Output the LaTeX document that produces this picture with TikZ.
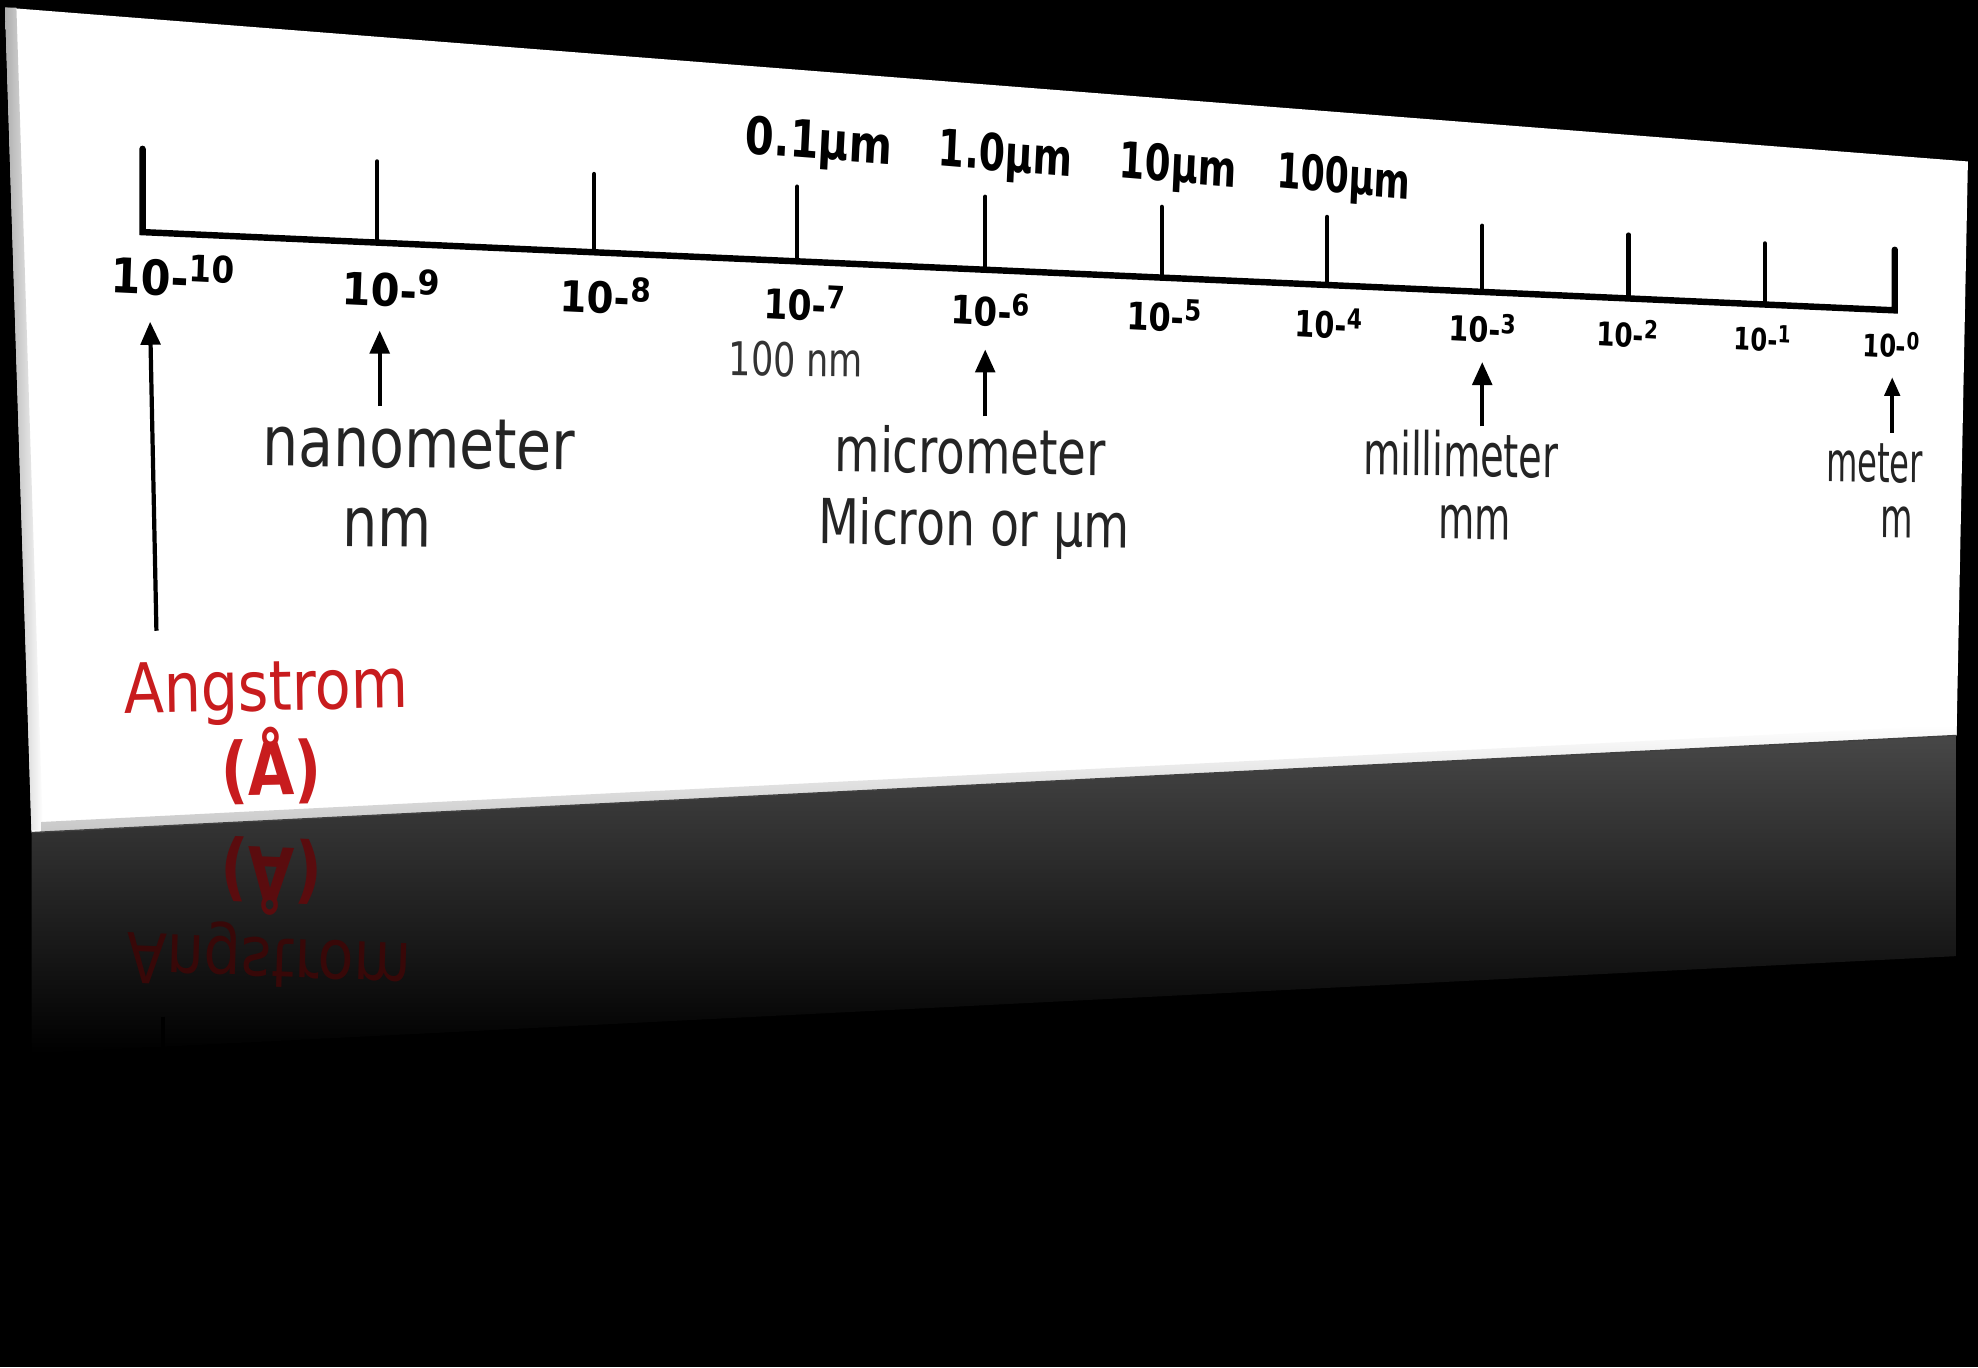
\documentclass[tikz,border=0pt]{standalone}
\usepackage{fontspec}
\setmainfont{DejaVu Sans}
\usepackage{xcolor}
\usepackage{tikz}
\usetikzlibrary{arrows.meta}
\definecolor{angred}{RGB}{200,28,30}
\newcommand{\tenpow}[2]{\fontsize{#1}{#1}\selectfont 10-\raisebox{0.3em}{\scalebox{0.76}{#2}}}
\newcommand{\fsz}[1]{\fontsize{#1}{#1}\selectfont}

\begin{document}
\begin{tikzpicture}[x=0.1mm, y=-0.1mm,
    tickln/.style={line width=1pt, line cap=round},
    axisln/.style={line width=1.45pt, line cap=round},
    uparr/.style={-{Triangle[length=5.2pt, width=4.4pt]}, line width=0.95pt},
    toplbl/.style={inner sep=0pt, font=\bfseries, transform shape, xscale=#1, rotate=-3.5},
    powlbl/.style={inner sep=0pt, font=\bfseries, transform shape, xscale=#1, rotate=-2.4},
    unitlbl/.style={inner sep=0pt, text=black!86, transform shape, xscale=#1, rotate=-0.6},
    anglbl/.style={inner sep=0pt, text=angred, transform shape, xscale=#1, rotate=1},
    mirlbl/.style={inner sep=0pt, transform shape, xscale=#1, yscale=-1, rotate=2}
]
% backdrop, reflection, card
\fill[black] (0,0) rectangle (1568,1084);
\begin{scope}[shift={(25,660)}, yslant=0.0505]
  \shade[top color=black!72, bottom color=black] (0,0) rectangle (1526,175);
\end{scope}
\fill[white] (4,6) -- (1560,128) -- (1551,583) -- (25,660) -- cycle;
\begin{scope}[shift={(4,6)}, xslant=-0.0321]
  \shade[left color=black!32, right color=white] (0,0) rectangle (9,652);
\end{scope}
\begin{scope}[shift={(25,660)}, yslant=0.0505]
  \shade[top color=white, bottom color=black!22] (8,-8) rectangle (1526,0);
\end{scope}
\draw[black!75, line width=0.3pt] (25,660) -- (1551,583);

% mirrored text
\node[mirlbl=0.82, text=angred!45!black, font=\bfseries] (angmir) at (215,695) {\fsz{16.5}(Å)};
\node[mirlbl=0.85, text=angred!28!black] (namemir) at (213,758) {\fsz{15.6}Angstrom};
\draw[black, line width=0.9pt] (129,806) -- (129,840);

% scale
\draw[axisln] (113,118) -- (113,184) -- (1502,246) -- (1502,198);
\draw[tickln] (299,192) -- (299,128);
\draw[tickln] (471,200) -- (471,138);
\draw[tickln] (632,207) -- (632,148);
\draw[tickln] (781,214) -- (781,156);
\draw[tickln] (921,220) -- (921,164);
\draw[tickln] (1052,226) -- (1052,172);
\draw[tickln] (1175,231) -- (1175,179);
\draw[tickln] (1291,237) -- (1291,186);
\draw[tickln] (1399,241) -- (1399,193);

\node[toplbl=0.80] (um01) at (649,115) {\fsz{11.7}0.1µm};
\node[toplbl=0.74] (um1) at (797,125) {\fsz{11.5}1.0µm};
\node[toplbl=0.74] (um10) at (934,134) {\fsz{11.3}10µm};
\node[toplbl=0.71] (um100) at (1065,143) {\fsz{11}100µm};

\node[powlbl=0.89] (p10) at (137,218) {\tenpow{10.9}{10}};
\node[powlbl=0.93] (p9) at (310,228) {\tenpow{10.1}{9}};
\node[powlbl=0.90] (p8) at (480,234) {\tenpow{9.7}{8}};
\node[powlbl=0.84] (p7) at (638,240) {\tenpow{9.3}{7}};
\node[powlbl=0.86] (p6) at (785,245) {\tenpow{8.9}{6}};
\node[powlbl=0.84] (p5) at (923,250) {\tenpow{8.6}{5}};
\node[powlbl=0.79] (p4) at (1053,256) {\tenpow{8.2}{4}};
\node[powlbl=0.83] (p3) at (1175,260) {\tenpow{7.8}{3}};
\node[powlbl=0.80] (p2) at (1290,264) {\tenpow{7.4}{2}};
\node[powlbl=0.78] (p1) at (1397,268) {\tenpow{7.0}{1}};
\node[powlbl=0.78] (p0) at (1499,273) {\tenpow{7.0}{0}};
\node[unitlbl=0.75, text=black!80] (hundnm) at (631,285) {\fsz{10.5}100 nm};

% unit names
\node[unitlbl=0.82] (nano) at (332,352) {\fsz{15.6}nanometer};
\node[unitlbl=0.80] (nanosym) at (307,418) {\fsz{15.6}nm};
\node[unitlbl=0.75] (micro) at (769,357) {\fsz{14}micrometer};
\node[unitlbl=0.76] (microsym) at (772,419) {\fsz{14}Micron or µm};
\node[unitlbl=0.64] (milli) at (1158,360) {\fsz{13.5}millimeter};
\node[unitlbl=0.62] (millisym) at (1169,414) {\fsz{13.5}mm};
\node[unitlbl=0.58] (metre) at (1486,367) {\fsz{12.5}meter};
\node[unitlbl=0.60] (metresym) at (1504,414) {\fsz{12.5}m};
\node[anglbl=0.85] (ang) at (211,549) {\fsz{15.6}Angstrom};
\node[anglbl=0.82, font=\bfseries] (angsym) at (215,607) {\fsz{16.5}(Å)};

% arrows
\coordinate (angtail) at (124,500);
\coordinate (angtip) at (119,255);
\coordinate (nanotail) at (301,322);
\coordinate (nanotip) at (301,262);
\coordinate (microtail) at (781,330);
\coordinate (microtip) at (781,277);
\coordinate (millitail) at (1175,338);
\coordinate (millitip) at (1175,287);
\coordinate (metretail) at (1500,343);
\coordinate (metretip) at (1500,299);
\draw[uparr] (angtail) -- (angtip);
\draw[uparr] (nanotail) -- (nanotip);
\draw[uparr] (microtail) -- (microtip);
\draw[uparr] (millitail) -- (millitip);
\draw[uparr, -{Triangle[length=4.2pt, width=3.4pt]}] (metretail) -- (metretip);
\end{tikzpicture}
\end{document}
